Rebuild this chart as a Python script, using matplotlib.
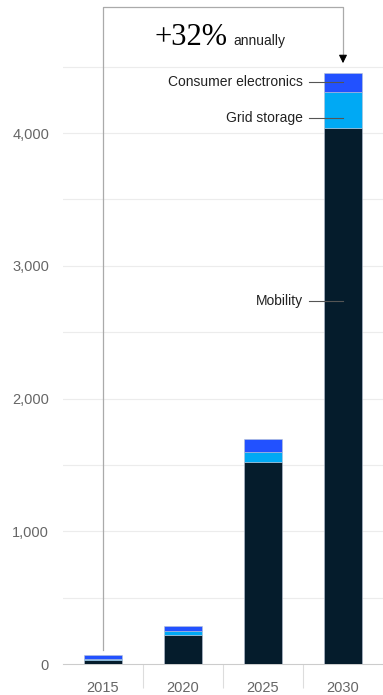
import matplotlib.pyplot as plt

years = ['2015', '2020', '2025', '2030']
mobility = [28, 221, 1522, 4035]
grid_storage = [7, 28, 75, 271]
consumer_electronics = [33, 40, 95, 148]

c_mob = '#051C2C'
c_grid = '#00A9F4'
c_cons = '#2251FF'

plt.rcParams['font.family'] = ['Liberation Sans', 'DejaVu Sans']

fig = plt.figure(figsize=(3.83, 6.95), dpi=100)
ax = fig.add_axes([63 / 383, 31 / 695, 320 / 383, 663.75 / 695])

x = range(len(years))
w = 0.48
bottoms2 = [m + g for m, g in zip(mobility, grid_storage)]
ax.bar(x, mobility, w, color=c_mob, edgecolor='#b8c2d4', linewidth=0.4, zorder=3)
ax.bar(x, grid_storage, w, bottom=mobility, color=c_grid, edgecolor='#b8c2d4', linewidth=0.4, zorder=3)
ax.bar(x, consumer_electronics, w, bottom=bottoms2, color=c_cons, edgecolor='#b8c2d4', linewidth=0.4, zorder=3)

ax.set_xlim(-0.5, 3.5)
ax.set_ylim(0, 5000)
ax.set_yticks([0, 1000, 2000, 3000, 4000])
ax.set_yticklabels(['0', '1,000', '2,000', '3,000', '4,000'])
for v in range(500, 5000, 500):
    ax.axhline(v, color='#ececec', lw=0.8, zorder=0)

for s in ['top', 'right', 'left']:
    ax.spines[s].set_visible(False)
ax.spines['bottom'].set_color('#cccccc')
ax.tick_params(axis='y', length=0, labelsize=10.5, labelcolor='#666666', pad=10)
ax.set_xticks([0.5, 1.5, 2.5])
ax.set_xticklabels([])
ax.tick_params(axis='x', direction='out', length=17, color='#dddddd', width=0.8)
for i, yr in enumerate(years):
    ax.text(i, -130, yr, ha='center', va='top', fontsize=10.5, color='#666666')

# labels on 2030 bar
last = len(years) - 1
ax.text(2.503, 4384, 'Consumer electronics', ha='right', va='center', fontsize=10, color='#222222')
ax.plot([2.578, 3.0], [4384, 4384], color='#555555', lw=0.8, zorder=4)
ax.text(2.503, 4113, 'Grid storage', ha='right', va='center', fontsize=10, color='#222222')
ax.plot([2.578, 3.0], [4113, 4113], color='#555555', lw=0.8, zorder=4)
ax.text(2.503, 2734, 'Mobility', ha='right', va='center', fontsize=10, color='#222222')
ax.plot([2.578, 3.0], [2734, 2734], color='#555555', lw=0.8, zorder=4)

# growth bracket
ax.plot([0, 0, last, last], [105, 4949, 4949, 4560], color='#aaaaaa', lw=0.9, zorder=2)
ax.annotate('', xy=(last, 4505), xytext=(last, 4570),
            arrowprops=dict(arrowstyle='-|>', color='black', lw=0.8, mutation_scale=12))
ax.text(1.555, 4716, '+32%', ha='right', va='center', fontsize=22, family='Liberation Serif', color='black')
ax.text(1.63, 4690, 'annually', ha='left', va='center', fontsize=10, color='#222222')

fig.savefig('out.png', dpi=100)
